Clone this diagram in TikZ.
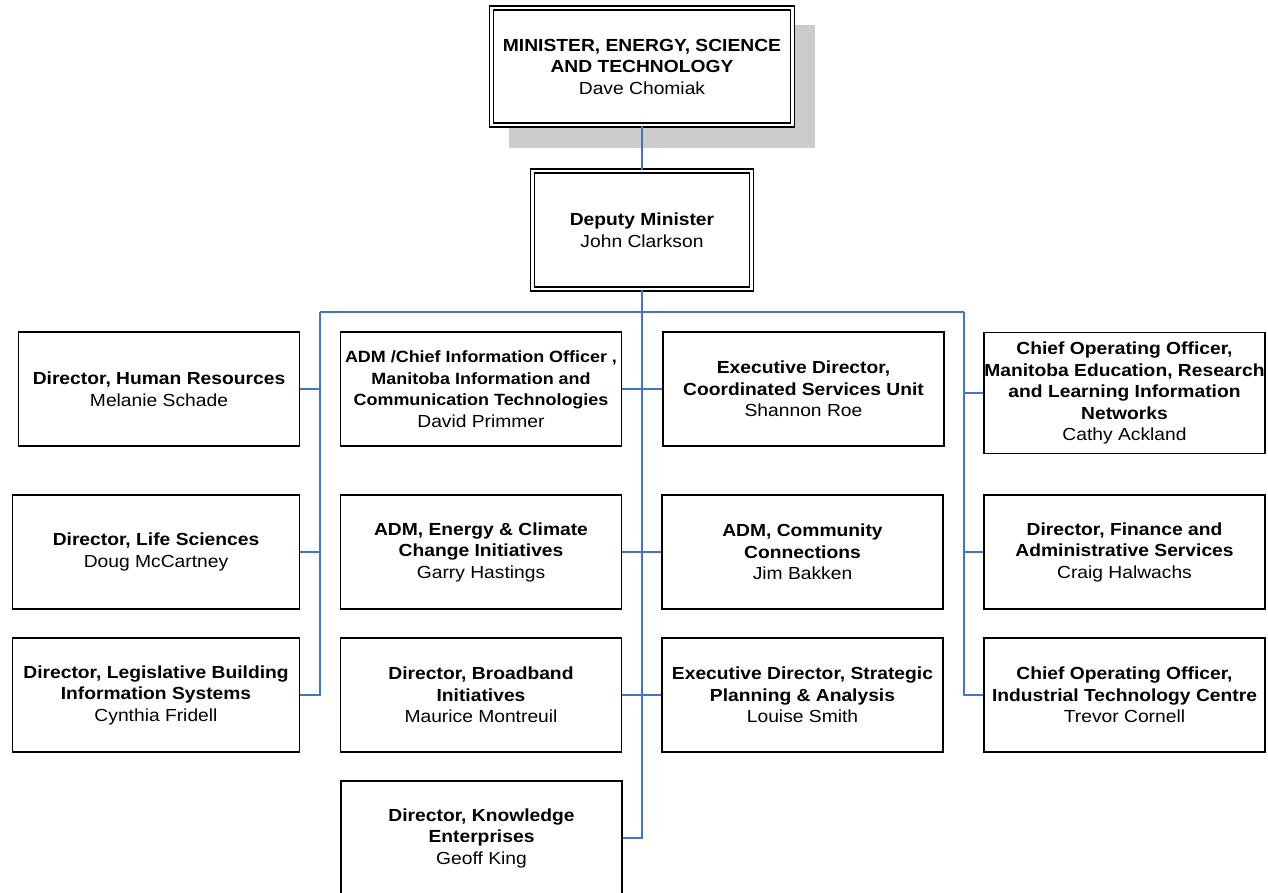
\documentclass[tikz,border=0pt]{standalone}
\usepackage{fontspec}
\setmainfont{Liberation Sans}[FakeStretch=1.1]
\definecolor{connblue}{RGB}{68,114,196}
\definecolor{shadowgray}{RGB}{204,204,204}
\begin{document}
\begin{tikzpicture}[x=1pt,y=-1pt,
  box/.style={draw=black, line width=1.6pt, fill=white, rectangle, inner sep=0pt,
    align=center, minimum width=281pt, minimum height=114pt,
    font=\fontsize{17.5}{21.5}\selectfont},
  dbox/.style={box, double=white, double distance=2.2pt, line width=1.7pt},
  link/.style={draw=connblue, line width=2pt}]
\useasboundingbox (0,0) rectangle (1268,892);
\fill[white] (0,0) rectangle (1268,892);

% shadow of the minister box
\fill[shadowgray] (509,25) rectangle (815,148);

% top boxes
\node[dbox, minimum width=301pt, minimum height=117pt] (min) at (642,66.5)
  {\textbf{MINISTER, ENERGY, SCIENCE}\\\textbf{AND TECHNOLOGY}\\Dave Chomiak};
\node[dbox, minimum width=219pt, minimum height=118pt] (dm) at (642,230)
  {\textbf{Deputy Minister}\\John Clarkson};

% row 1
\node[box] (hr) at (159,389) {\textbf{Director, Human Resources}\\Melanie Schade};
\node[box, font=\fontsize{16.3}{21.5}\selectfont] (adm1) at (481,389) {\textbf{ADM /Chief Information Officer ,}\\\textbf{Manitoba Information and}\\\textbf{Communication Technologies}\\\fontsize{17.5}{21.5}\selectfont David Primmer};
\node[box] (eds) at (803.5,389) {\textbf{Executive Director,}\\\textbf{Coordinated Services Unit}\\Shannon Roe};
\node[box, minimum height=121pt] (coo1) at (1124.5,393) {\textbf{Chief Operating Officer,}\\\textbf{Manitoba Education, Research}\\\textbf{and Learning Information}\\\textbf{Networks}\\Cathy Ackland};

% row 2
\node[box, minimum width=287pt] (life) at (156,552) {\textbf{Director, Life Sciences}\\Doug McCartney};
\node[box] (adm2) at (481,552) {\textbf{ADM, Energy \& Climate}\\\textbf{Change Initiatives}\\Garry Hastings};
\node[box] (adm3) at (802.5,552) {\textbf{ADM, Community}\\\textbf{Connections}\\Jim Bakken};
\node[box] (fin) at (1124.5,552) {\textbf{Director, Finance and}\\\textbf{Administrative Services}\\Craig Halwachs};

% row 3
\node[box, minimum width=287pt] (leg) at (156,695) {\textbf{Director, Legislative Building}\\\textbf{Information Systems}\\Cynthia Fridell};
\node[box] (bb) at (481,695) {\textbf{Director, Broadband}\\\textbf{Initiatives}\\Maurice Montreuil};
\node[box] (strat) at (802.5,695) {\textbf{Executive Director, Strategic}\\\textbf{Planning \& Analysis}\\Louise Smith};
\node[box] (coo2) at (1124.5,695) {\textbf{Chief Operating Officer,}\\\textbf{Industrial Technology Centre}\\Trevor Cornell};

% row 4
\node[box] (know) at (481.5,838) {\textbf{Director, Knowledge}\\\textbf{Enterprises}\\Geoff King};

% bus coordinates
\coordinate (busL) at (320,312);
\coordinate (busR) at (964,312);

% connectors
\draw[link] (min.south) -- (dm.north);
\draw[link] (dm.south) -- (know.east -| dm.south) -- (know.east);
\draw[link] (busL) -- (busR);
\draw[link] (busL) -- (leg.east -| busL) -- (leg.east);
\draw[link] (busR) -- (coo2.west -| busR) -- (coo2.west);
\draw[link] (hr.east) -- (hr.east -| busL);
\draw[link] (life.east) -- (life.east -| busL);
\draw[link] (coo1.west) -- (coo1.west -| busR);
\draw[link] (fin.west) -- (fin.west -| busR);
\draw[link] (adm1.east) -- (eds.west);
\draw[link] (adm2.east) -- (adm3.west);
\draw[link] (bb.east) -- (strat.west);
\end{tikzpicture}
\end{document}
